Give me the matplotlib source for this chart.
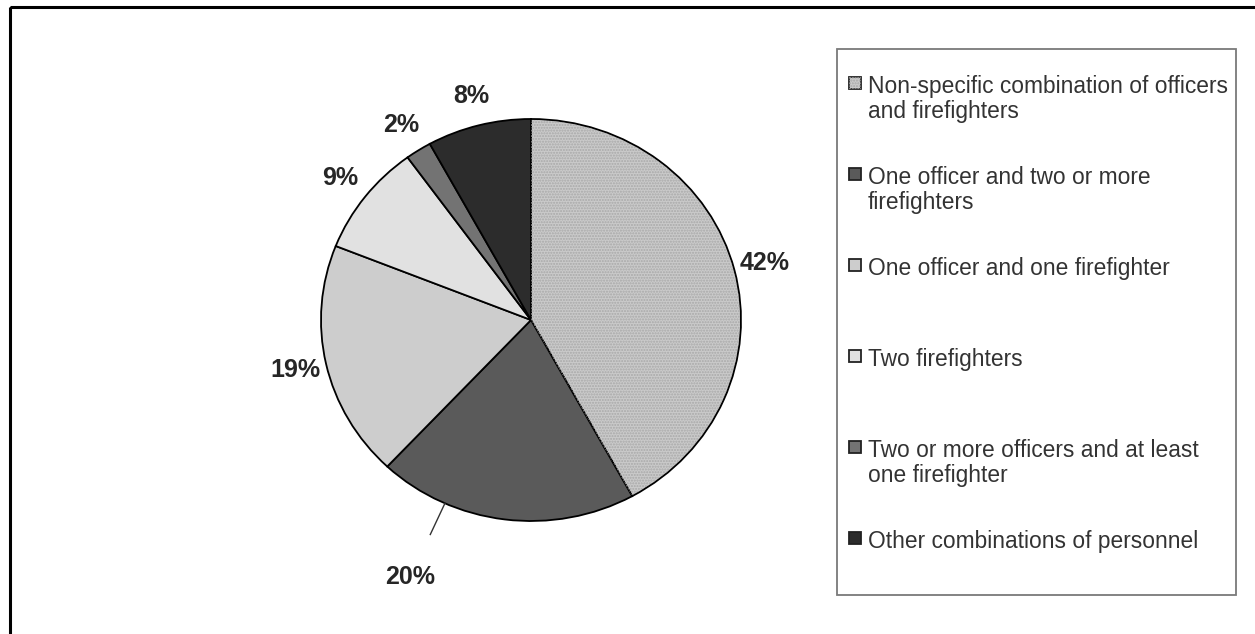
import numpy as np
import matplotlib.pyplot as plt
from matplotlib.patches import Wedge, Rectangle

plt.rcParams['font.family'] = ['Liberation Sans', 'DejaVu Sans']

categories = ['Non-specific combination of officers\nand firefighters',
              'One officer and two or more\nfirefighters',
              'One officer and one firefighter',
              'Two firefighters',
              'Two or more officers and at least\none firefighter',
              'Other combinations of personnel']
shares = [42, 20, 19, 9, 2, 8]
colors = ['#cacaca', '#5a5a5a', '#cdcdcd', '#e1e1e1', '#737373', '#2c2c2c']

W, H = 1255, 634
fig = plt.figure(figsize=(W / 100, H / 100), dpi=100)

# pie axes, centre and radii in pixels (slightly wider than tall)
cx, cy, rx, ry = 531, 320, 210, 201
ax = fig.add_axes([(cx - 1.5 * rx) / W, 1 - (cy + 1.5 * ry) / H, 3 * rx / W, 3 * ry / H])

wedges, _ = ax.pie(shares, colors=colors, startangle=90, counterclock=False,
                   wedgeprops=dict(edgecolor='black', linewidth=1.3))
ax.set_aspect('auto')
ax.set_xlim(-1.5, 1.5)
ax.set_ylim(-1.5, 1.5)
ax.axis('off')

# fine dotted texture on the largest slice
w0 = wedges[0]
ax.add_patch(Wedge(w0.center, w0.r * 0.995, w0.theta1, w0.theta2, facecolor='none',
                   edgecolor='#a8a8a8', hatch='......', linewidth=0, zorder=w0.get_zorder() + 0.5))

for i, (w, s) in enumerate(zip(wedges, shares)):
    ang = (w.theta1 + w.theta2) / 2
    if i == 1:
        # this label sits lower with a short leader line
        ang -= 17
        a = np.deg2rad(ang)
        ax.plot([np.cos(a), 1.17 * np.cos(a)], [np.sin(a), 1.17 * np.sin(a)],
                color='#333333', lw=1.0)
        r = 1.40
    else:
        a = np.deg2rad(ang)
        r = 1.15
    ax.text(r * np.cos(a), r * np.sin(a), f'{s}%', ha='center', va='center',
            fontsize=18, fontweight='bold', color='#262626')

# overlay in pixel coordinates for frame and legend
ov = fig.add_axes([0, 0, 1, 1], zorder=5)
ov.set_xlim(0, W)
ov.set_ylim(H, 0)
ov.axis('off')

ov.add_patch(Rectangle((10, 7), W + 20, H + 20, fill=False, edgecolor='black', lw=2.2))
ov.add_patch(Rectangle((836.5, 48.5), 399, 546, fill=False, edgecolor='#7a7a7a', lw=1.3))

y0, step, line_h = 93, 91, 25
for i, (lab, c) in enumerate(zip(categories, colors)):
    yb = y0 + i * step
    ov.add_patch(Rectangle((849, yb - 16), 12, 12, facecolor=c, edgecolor='#222222', lw=1.3))
    if i == 0:
        ov.add_patch(Rectangle((849, yb - 16), 12, 12, facecolor='none', edgecolor='#a8a8a8',
                               hatch='......', lw=0))
    for k, line in enumerate(lab.split('\n')):
        ov.text(868, yb + k * line_h, line, ha='left', va='baseline', fontsize=16.4,
                color='#333333')

fig.savefig('out.png', dpi=100, facecolor='white')
